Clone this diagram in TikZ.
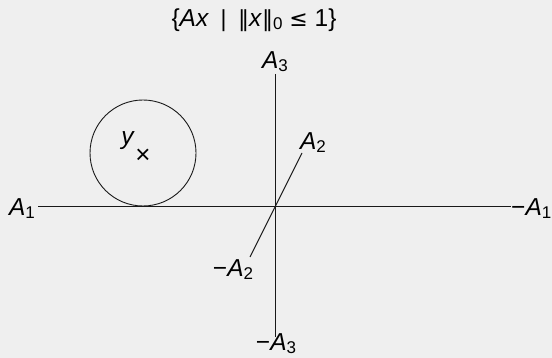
\documentclass[tikz,border=0pt]{standalone}
\usepackage{fontspec}
\setmainfont{Liberation Sans}
\newfontfamily\symfont{DejaVu Sans}
\newcommand{\vv}[1]{\textit{#1}}
\newcommand{\sbs}[1]{\raisebox{-3pt}{\fontsize{17}{17}\selectfont #1}}
\begin{document}
\begin{tikzpicture}[x=1pt,y=-1pt,
  axis/.style={line width=0.9pt,draw=black!90},
  lbl/.style={inner sep=0pt,font=\fontsize{24.5}{26}\selectfont}]
\fill[fill={rgb,255:red,239;green,239;blue,239}] (0,0) rectangle (552,358);
\useasboundingbox (0,0) rectangle (552,358);
\node[lbl] (t) at (254,20) {\{\vv{Ax} \,{\symfont\fontsize{22}{24}\selectfont|}\, {\symfont\fontsize{22}{24}\selectfont‖}\vv{x}{\symfont\fontsize{22}{24}\selectfont‖}\sbs{0} {\symfont\fontsize{22}{24}\selectfont≤} 1\}};
\node[lbl,anchor=east] (a1) at (35,209) {\vv{A}\sbs{1}};
\node[lbl,anchor=west] (ma1) at (511,209) {−\vv{A}\sbs{1}};
\node[lbl] (a3) at (275,62) {\vv{A}\sbs{3}};
\node[lbl,anchor=south] (ma3) at (276,354) {−\vv{A}\sbs{3}};
\node[lbl] (a2) at (313,143) {\vv{A}\sbs{2}};
\node[lbl] (ma2) at (233,270) {−\vv{A}\sbs{2}};
\coordinate (h1) at (38,206);
\coordinate (h2) at (511,206);
\coordinate (v1) at (275,74);
\coordinate (v2) at (275,337);
\coordinate (d1) at (302,153);
\coordinate (d2) at (250,257);
\draw[axis] (h1) -- (h2);
\draw[axis] (v1) -- (v2);
\draw[axis] (d1) -- (d2);
\node[circle,draw=black!90,line width=0.9pt,minimum size=106pt,inner sep=0pt] (c) at (143,153) {};
\node[lbl] (y) at (128,141) {\vv{y}};
\node[inner sep=0pt,font=\fontsize{26}{26}\selectfont] (xm) at (143,156) {×};
\end{tikzpicture}
\end{document}
